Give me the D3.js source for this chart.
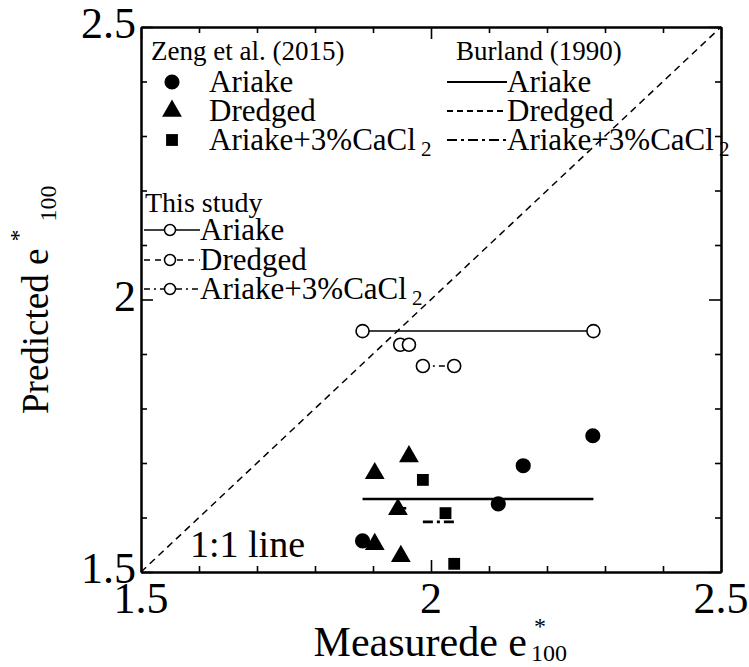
<!DOCTYPE html>
<html>
<head>
<meta charset="utf-8">
<script src="https://cdn.jsdelivr.net/npm/d3@7"></script>
<style>
  html, body { margin: 0; padding: 0; background: #fff; }
  svg text { font-family: "Liberation Serif", "Times New Roman", serif; fill: #000; }
</style>
</head>
<body>
<svg id="chart" width="749" height="667"></svg>
<script>
// Measured vs predicted e*100 values
const zengAriake  = [[1.882, 1.557], [2.116, 1.625], [2.159, 1.695], [2.279, 1.750]];
const zengDredged = [[1.903, 1.681], [1.962, 1.712], [1.943, 1.615], [1.903, 1.551], [1.948, 1.529]];
const zengCaCl2   = [[1.986, 1.669], [2.025, 1.608], [2.040, 1.515]];

// Burland (1990) predictions: constant value across the measured range
const burlandAriake  = [[1.882, 1.634], [2.280, 1.634]];
const burlandDredged = [[1.947, 1.617], [1.962, 1.617]];
const burlandCaCl2   = [[1.986, 1.592], [2.040, 1.592]];

// This study
const studyAriake  = [[1.882, 1.942], [2.280, 1.942]];
const studyDredged = [[1.947, 1.917], [1.962, 1.917]];
const studyCaCl2   = [[1.986, 1.878], [2.040, 1.878]];

const oneToOne = [[1.5, 1.5], [2.5, 2.5]];
const majorTicks = [1.5, 2, 2.5];
const tickLabels = ["1.5", "2", "2.5"];
const minorTicks = d3.range(15, 26).map(v => v / 10);

const svg = d3.select("#chart");
const L = 141, R = 721, T = 27, B = 572;
const x = d3.scaleLinear().domain([1.5, 2.5]).range([L, R]);
const y = d3.scaleLinear().domain([1.5, 2.5]).range([B, T]);

const plot = svg.append("g");

// axes with inward ticks on all four sides
function addAxis(axisGen, transform) {
  const g = svg.append("g").attr("transform", transform);
  g.call(axisGen);
  g.selectAll("path.domain").attr("stroke", "#000").attr("stroke-width", 2);
  g.selectAll(".tick line").attr("stroke", "#000").attr("stroke-width", 1.6);
  g.selectAll(".tick text").remove();
  return g;
}
const minorOnly = minorTicks.filter(v => !majorTicks.some(m => Math.abs(m - v) < 1e-9));
[[d3.axisBottom(x), `translate(0,${B})`],
 [d3.axisTop(x), `translate(0,${T})`],
 [d3.axisLeft(y), `translate(${L},0)`],
 [d3.axisRight(y), `translate(${R},0)`]].forEach(([gen, tr]) => {
  addAxis(gen.tickValues(minorOnly).tickSize(-6).tickSizeOuter(0), tr);
  addAxis(gen.tickValues(majorTicks).tickSize(-12).tickSizeOuter(0), tr);
});

// tick labels
svg.append("g").selectAll("text").data(majorTicks).join("text")
  .attr("x", d => x(d)).attr("y", B + 41)
  .attr("text-anchor", "middle").attr("font-size", 44)
  .text((d, i) => tickLabels[i]);
svg.append("g").selectAll("text").data(majorTicks).join("text")
  .attr("x", L - 5).attr("y", d => y(d) + 11)
  .attr("text-anchor", "end").attr("font-size", 44)
  .text((d, i) => tickLabels[i]);

// 1:1 line
const line = d3.line().x(d => x(d[0])).y(d => y(d[1]));
plot.append("path").attr("d", line(oneToOne))
  .attr("fill", "none").attr("stroke", "#000").attr("stroke-width", 1.5)
  .attr("stroke-dasharray", "7,5");
svg.append("text").attr("x", 190).attr("y", 557)
  .attr("font-size", 38).text("1:1 line");

// Burland lines
const dashes = { solid: null, dashed: "6,4", dashdot: "10,4,3,4" };
[[burlandAriake, "solid"], [burlandDredged, "dashed"], [burlandCaCl2, "dashdot"]].forEach(([d, s]) => {
  plot.append("path").attr("d", line(d)).attr("fill", "none")
    .attr("stroke", "#000").attr("stroke-width", 2.6).attr("stroke-dasharray", dashes[s]);
});

// This study lines and open circles
[[studyAriake, "solid"], [studyDredged, "dashed"], [studyCaCl2, "dashdot"]].forEach(([d, s]) => {
  plot.append("path").attr("d", line(d)).attr("fill", "none")
    .attr("stroke", "#000").attr("stroke-width", 1.5).attr("stroke-dasharray", s === "dashdot" ? "6,4,2,4" : dashes[s]);
  plot.selectAll(null).data(d).join("circle")
    .attr("cx", p => x(p[0])).attr("cy", p => y(p[1])).attr("r", 6.5)
    .attr("fill", "#fff").attr("stroke", "#000").attr("stroke-width", 1.6);
});

// Zeng et al. markers
const circ = d3.symbol().type(d3.symbolCircle).size(180);
const tri = d3.symbol().type(d3.symbolTriangle).size(170);
const sq = d3.symbol().type(d3.symbolSquare).size(140);
function markers(data, sym) {
  plot.selectAll(null).data(data).join("path")
    .attr("d", sym).attr("transform", p => `translate(${x(p[0])},${y(p[1])})`)
    .attr("fill", "#000");
}
markers(zengAriake, circ);
markers(zengDredged, tri);
markers(zengCaCl2, sq);

// legends
const lg = svg.append("g");
const fs = 31, hfs = 27;
function caText(g, xx, yy) {
  const t = g.append("text").attr("x", xx).attr("y", yy).attr("font-size", fs);
  t.append("tspan").text("Ariake+3%CaCl");
  t.append("tspan").attr("dx", 5).attr("dy", 6).attr("font-size", 21).text("2");
}
lg.append("text").attr("x", 151).attr("y", 60).attr("font-size", hfs).text("Zeng et al. (2015)");
lg.append("text").attr("x", 456).attr("y", 60).attr("font-size", hfs).text("Burland (1990)");
const rows = [82, 111, 140];
[circ, tri, sq].forEach((s, i) => {
  lg.append("path").attr("d", s).attr("transform", `translate(172,${rows[i]})`).attr("fill", "#000");
});
lg.append("text").attr("x", 209).attr("y", rows[0] + 10).attr("font-size", fs).text("Ariake");
lg.append("text").attr("x", 209).attr("y", rows[1] + 10).attr("font-size", fs).text("Dredged");
caText(lg, 209, rows[2] + 10);
["solid", "dashed", "dashdot"].forEach((s, i) => {
  lg.append("line").attr("x1", 447).attr("x2", 507).attr("y1", rows[i]).attr("y2", rows[i])
    .attr("stroke", "#000").attr("stroke-width", 2.2).attr("stroke-dasharray", dashes[s]);
});
lg.append("text").attr("x", 507).attr("y", rows[0] + 10).attr("font-size", fs).text("Ariake");
lg.append("text").attr("x", 507).attr("y", rows[1] + 10).attr("font-size", fs).text("Dredged");
caText(lg, 507, rows[2] + 10);

lg.append("text").attr("x", 145).attr("y", 212).attr("font-size", 28).text("This study");
const rows2 = [230, 260, 289];
["solid", "dashed", "dashdot"].forEach((s, i) => {
  lg.append("line").attr("x1", 144).attr("x2", 200).attr("y1", rows2[i]).attr("y2", rows2[i])
    .attr("stroke", "#000").attr("stroke-width", 1.5)
    .attr("stroke-dasharray", s === "solid" ? null : (s === "dashed" ? "6,5" : "6,4,2,4"));
  lg.append("circle").attr("cx", 170).attr("cy", rows2[i]).attr("r", 5.5)
    .attr("fill", "#fff").attr("stroke", "#000").attr("stroke-width", 1.5);
});
lg.append("text").attr("x", 200).attr("y", rows2[0] + 10).attr("font-size", fs).text("Ariake");
lg.append("text").attr("x", 200).attr("y", rows2[1] + 10).attr("font-size", fs).text("Dredged");
caText(lg, 200, rows2[2] + 10);

// axis titles
svg.append("text").attr("x", 527).attr("y", 656).attr("text-anchor", "end")
  .attr("font-size", 42).text("Measurede e");
svg.append("text").attr("x", 534).attr("y", 634).attr("font-size", 24).text("*");
svg.append("text").attr("x", 531).attr("y", 661).attr("font-size", 24).text("100");

const yt = svg.append("g").attr("transform", "translate(48,414) rotate(-90)");
const ytxt = yt.append("text").attr("x", 0).attr("y", 0).attr("font-size", 37).text("Predicted e");
const w = ytxt.node().getComputedTextLength();
yt.append("text").attr("x", w + 7).attr("y", -22).attr("font-size", 24).text("*");
yt.append("text").attr("x", w + 27).attr("y", 8).attr("font-size", 24).text("100");
</script>
</body>
</html>
